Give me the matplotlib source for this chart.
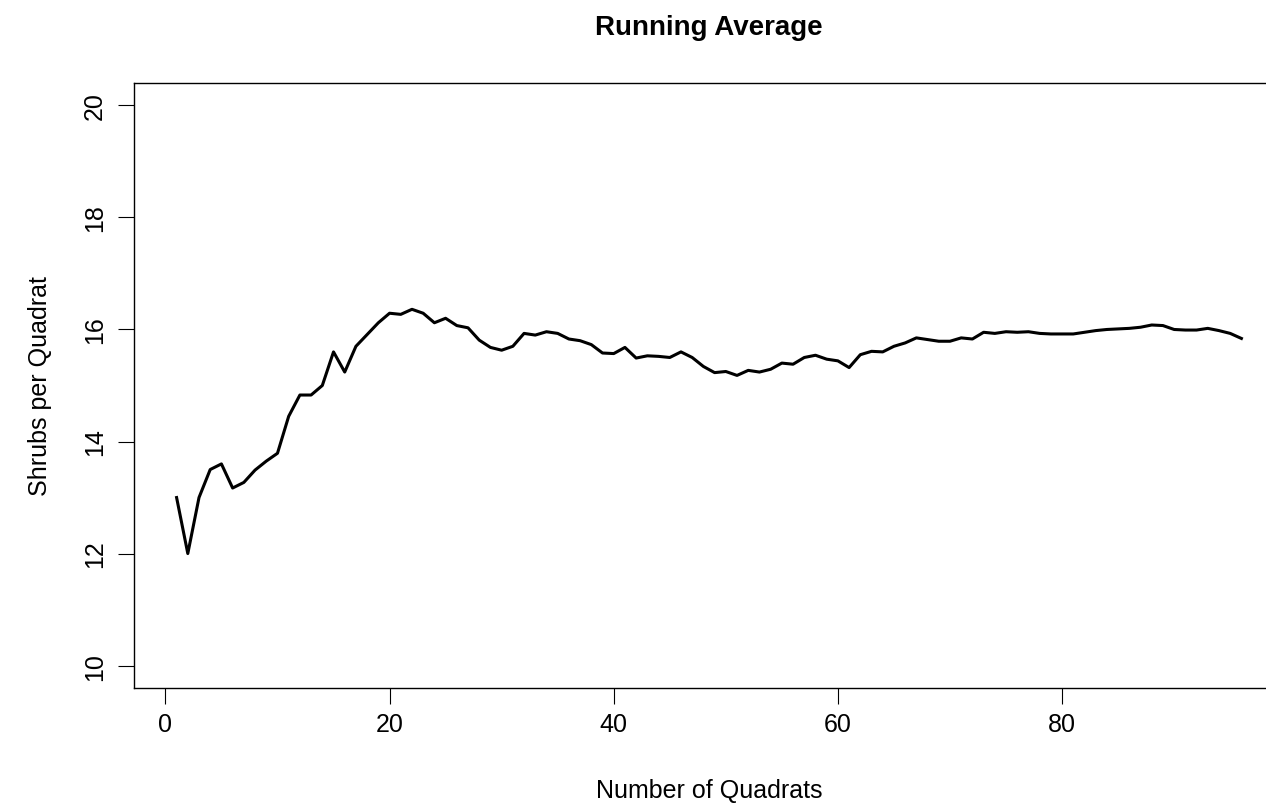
import numpy as np
import matplotlib.pyplot as plt

plt.rcParams['font.family'] = ['Liberation Sans', 'DejaVu Sans']

# running average of shrubs per quadrat, quadrats 1..96
quadrats = np.arange(1, 97)
running_avg = [
    13.00, 12.00, 13.00, 13.50, 13.60, 13.17, 13.27, 13.49, 13.65, 13.79,
    14.45, 14.83, 14.83, 15.00, 15.60, 15.24, 15.70, 15.91, 16.12, 16.29,
    16.27, 16.36, 16.29, 16.12, 16.20, 16.07, 16.03, 15.81, 15.68, 15.63,
    15.70, 15.93, 15.90, 15.96, 15.93, 15.83, 15.80, 15.73, 15.58, 15.57,
    15.68, 15.49, 15.53, 15.52, 15.50, 15.60, 15.50, 15.34, 15.23, 15.25,
    15.18, 15.27, 15.24, 15.29, 15.40, 15.38, 15.50, 15.54, 15.47, 15.44,
    15.32, 15.55, 15.61, 15.60, 15.70, 15.76, 15.85, 15.82, 15.79, 15.79,
    15.85, 15.83, 15.95, 15.93, 15.96, 15.95, 15.96, 15.93, 15.92, 15.92,
    15.92, 15.95, 15.98, 16.00, 16.01, 16.02, 16.04, 16.08, 16.07, 16.00,
    15.99, 15.99, 16.02, 15.98, 15.93, 15.84,
]
xticks = [0, 20, 40, 60, 80]
yticks = [10, 12, 14, 16, 18, 20]

W, H = 1266, 812
fig = plt.figure(figsize=(W / 100, H / 100), dpi=100)
# plot box runs past the right edge of the image, like the original
ax = fig.add_axes([134 / W, (H - 689) / H, (1284 - 134) / W, (689 - 84) / H])

ax.plot(quadrats, running_avg, color='black', linewidth=2.2)

ax.set_xlim(-2.8, 99.8)
ax.set_ylim(9.6, 20.4)
ax.set_xticks(xticks)
ax.set_yticks(yticks)
ax.tick_params(direction='out', length=11.5, width=0.8, labelsize=18, color='black')
ax.tick_params(axis='x', pad=6)
ax.tick_params(axis='y', pad=8)
for lab in ax.get_yticklabels():
    lab.set_rotation(90)
    lab.set_va('center')
for s in ax.spines.values():
    s.set_linewidth(1.0)

ax.set_xlabel('Number of Quadrats', fontsize=18, labelpad=30)
ax.set_ylabel('Shrubs per Quadrat', fontsize=18, labelpad=22)
fig.text(709 / W, 1 - 28 / H, 'Running Average', fontsize=20, fontweight='bold',
         ha='center', va='center')

fig.savefig('out.png', dpi=100)
